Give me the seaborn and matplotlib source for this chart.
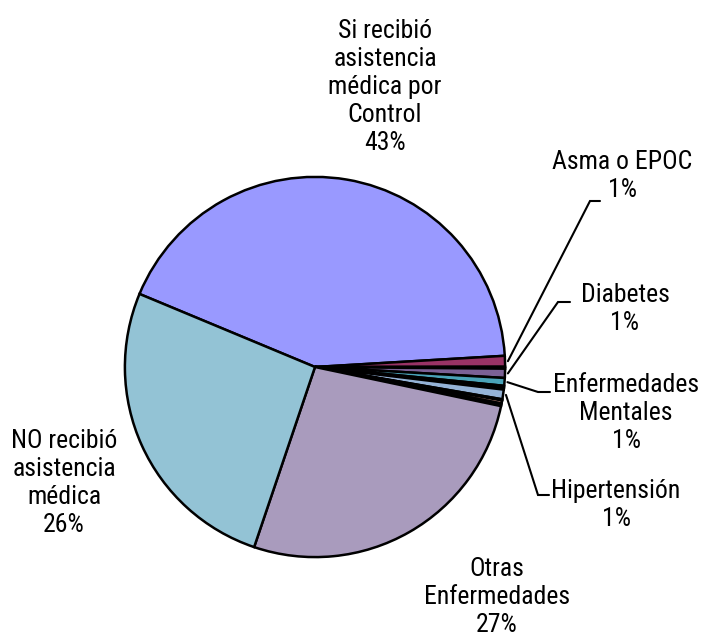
import numpy as np
import matplotlib
matplotlib.use('Agg')
import matplotlib.pyplot as plt
from matplotlib import font_manager
import seaborn as sns

# slices in clockwise order starting at the "Si recibió" slice
categories = ['Si recibió asistencia médica por Control', 'Asma o EPOC', 'Otro 1', 'Diabetes',
              'Enfermedades Mentales', 'Otro 2', 'Otro 3', 'Hipertensión', 'Otro 4', 'Otro 5',
              'Otro 6', 'Otras Enfermedades', 'NO recibió asistencia médica']
values = [42.8, 0.92, 0.16, 0.78, 0.66, 0.2, 0.12, 0.82, 0.1, 0.26, 0.22, 26.9, 26.1]
colors = ['#9999FF', '#993366', '#2A1A2A', '#7B6196', '#4AA3B8', '#C0804D', '#1A1A1A',
          '#95B3D7', '#1A1A1A', '#E6A090', '#1A1A1A', '#A99BBD', '#93C3D5']

# labels that are shown (name with line breaks, label centre in px, elbow of leader line in px)
big_labels = {
    'Si recibió asistencia médica por Control': ('Si recibió\nasistencia\nmédica por\nControl', (385, 87)),
    'NO recibió asistencia médica': ('NO recibió\nasistencia\nmédica', (64, 483)),
    'Otras Enfermedades': ('Otras\nEnfermedades', (497, 597)),
}
small_labels = {
    'Asma o EPOC': ('Asma o EPOC', (622, 176), (590, 201), 600),
    'Diabetes': ('Diabetes', (625, 309), (558, 302), 570),
    'Enfermedades Mentales': ('Enfermedades\nMentales', (626, 413), (538, 392), 550),
    'Hipertensión': ('Hipertensión', (616, 505), (538, 495), 549),
}

sns.set_theme(style='white')
installed = {f.name for f in font_manager.fontManager.ttflist}
narrow = [n for n in ['Liberation Sans Narrow', 'Arial Narrow', 'Roboto Condensed'] if n in installed]
plt.rcParams['font.family'] = narrow + ['Liberation Sans', 'DejaVu Sans']
plt.rcParams['text.color'] = 'black'
fs = 18.5 if narrow else 16.8
lsp = 1.2 if narrow else 1.36

W, H = 712, 639
CX, CY, R = 315, 367, 192  # pie centre and radius in pixels

fig = plt.figure(figsize=(W / 100, H / 100), dpi=100)
ax = fig.add_axes([(CX - R) / W, (H - CY - R) / H, 2 * R / W, 2 * R / H])
wedges, _ = ax.pie(values, colors=colors, startangle=157.4, counterclock=False, radius=1,
                   wedgeprops=dict(edgecolor='black', linewidth=1.8))
ax.set_xlim(-1.01, 1.01)
ax.set_ylim(-1.01, 1.01)
ax.set_aspect('equal')
ax.axis('off')

# overlay axes in pixel coordinates for the labels
lab = fig.add_axes([0, 0, 1, 1])
lab.set_xlim(0, W)
lab.set_ylim(H, 0)
lab.axis('off')
lab.patch.set_alpha(0)

total = sum(values)
for cat, val, w in zip(categories, values, wedges):
    pct = f'{round(val / total * 100):.0f}%'
    if cat in big_labels:
        name, (tx, ty) = big_labels[cat]
        lab.text(tx, ty, name + '\n' + pct, ha='center', va='center', fontsize=fs,
                 linespacing=lsp, multialignment='center', color='black')
    elif cat in small_labels:
        name, (tx, ty), (ex, ey), hx = small_labels[cat]
        mid = np.deg2rad((w.theta1 + w.theta2) / 2)
        sx = CX + (R + 1) * np.cos(mid)
        sy = CY - (R + 1) * np.sin(mid)
        lab.plot([sx, ex, hx], [sy, ey, ey], color='black', lw=1.5, solid_joinstyle='miter')
        lab.text(tx, ty, name + '\n' + pct, ha='center', va='center', fontsize=fs,
                 linespacing=lsp, multialignment='center', color='black')

fig.savefig('out.png', dpi=100, facecolor='white')
